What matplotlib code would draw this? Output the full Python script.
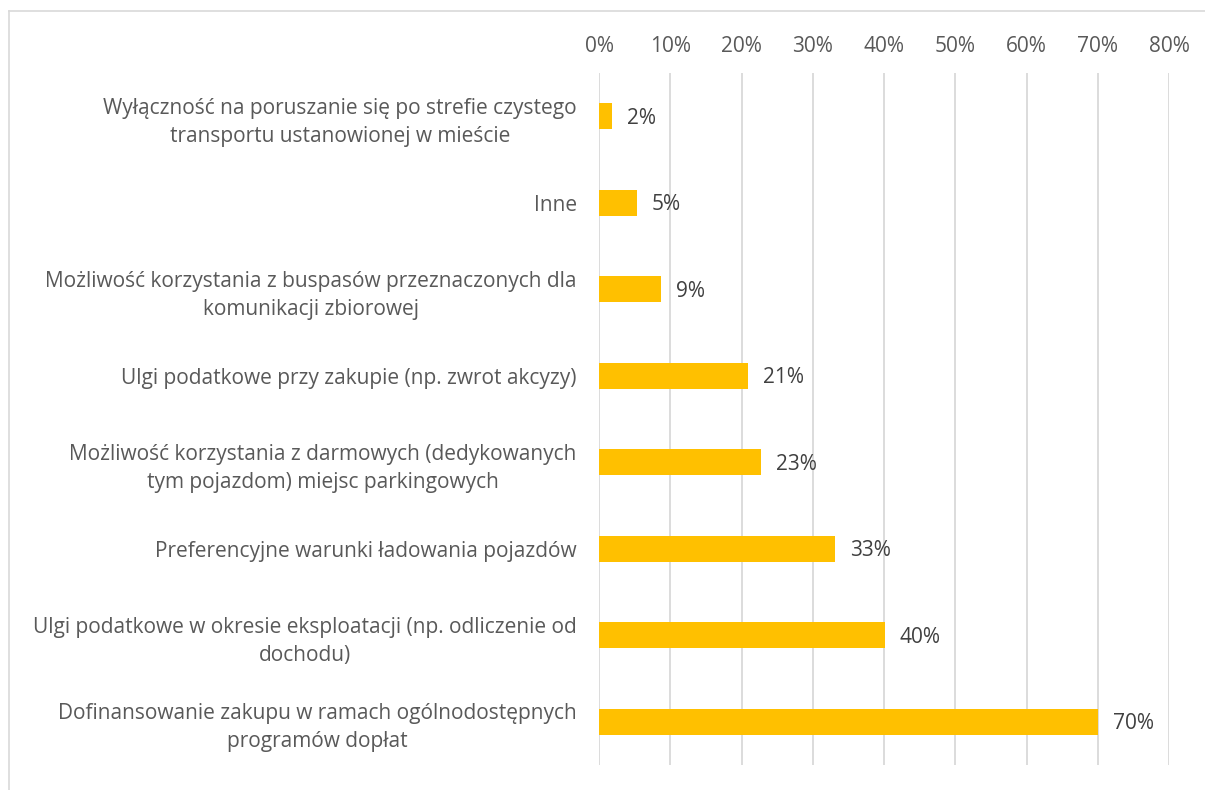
import matplotlib
matplotlib.use("Agg")
import matplotlib.pyplot as plt
from matplotlib.ticker import FuncFormatter, MultipleLocator
from matplotlib.lines import Line2D

categories = [
    "Wyłączność na poruszanie się po strefie czystego\ntransportu ustanowionej w mieście",
    "Inne",
    "Możliwość korzystania z buspasów przeznaczonych dla\nkomunikacji zbiorowej",
    "Ulgi podatkowe przy zakupie (np. zwrot akcyzy)",
    "Możliwość korzystania z darmowych (dedykowanych\ntym pojazdom) miejsc parkingowych",
    "Preferencyjne warunki ładowania pojazdów",
    "Ulgi podatkowe w okresie eksploatacji (np. odliczenie od\ndochodu)",
    "Dofinansowanie zakupu w ramach ogólnodostępnych\nprogramów dopłat",
]
values = [1.8, 5.3, 8.7, 20.9, 22.7, 33.1, 40.1, 70.0]
labels = ["2%", "5%", "9%", "21%", "23%", "33%", "40%", "70%"]

plt.rcParams['font.family'] = ['Open Sans', 'DejaVu Sans']

fig = plt.figure(figsize=(12.05, 7.9), dpi=100)
ax = fig.add_axes([599/1205, 1-765/790, 570/1205, 692/790])

ypos = list(range(len(categories)))
ax.barh(ypos, values, height=0.30, color='#FFC000', zorder=3)
ax.set_ylim(len(categories)-0.5, -0.5)
ax.set_xlim(0, 80)
ax.xaxis.set_major_locator(MultipleLocator(10))
ax.xaxis.set_major_formatter(FuncFormatter(lambda v, p: f"{int(round(v))}%"))
ax.xaxis.tick_top()
ax.tick_params(axis='x', length=0, pad=11.5, labelsize=15, labelcolor='#595959')
ax.tick_params(axis='y', length=0, pad=16, labelsize=15, labelcolor='#595959')
ax.set_yticks(ypos)
ax.set_yticklabels(categories, multialignment='center', linespacing=1.45)
ax.grid(axis='x', color='#D9D9D9', linewidth=1.3, zorder=0)
for s in ax.spines.values():
    s.set_visible(False)

for y, v, lab in zip(ypos, values, labels):
    ax.annotate(lab, (v, y), xytext=(11, -1.5), textcoords='offset points',
                ha='left', va='center', fontsize=15, color='#404040')

# outer chart frame (left and top edges visible)
fig.add_artist(Line2D([9/1205, 9/1205], [0, 1-11/790], color='#D9D9D9', linewidth=1.2, transform=fig.transFigure))
fig.add_artist(Line2D([9/1205, 1], [1-11/790, 1-11/790], color='#D9D9D9', linewidth=1.2, transform=fig.transFigure))

fig.savefig("out.png", dpi=100, facecolor='white')
